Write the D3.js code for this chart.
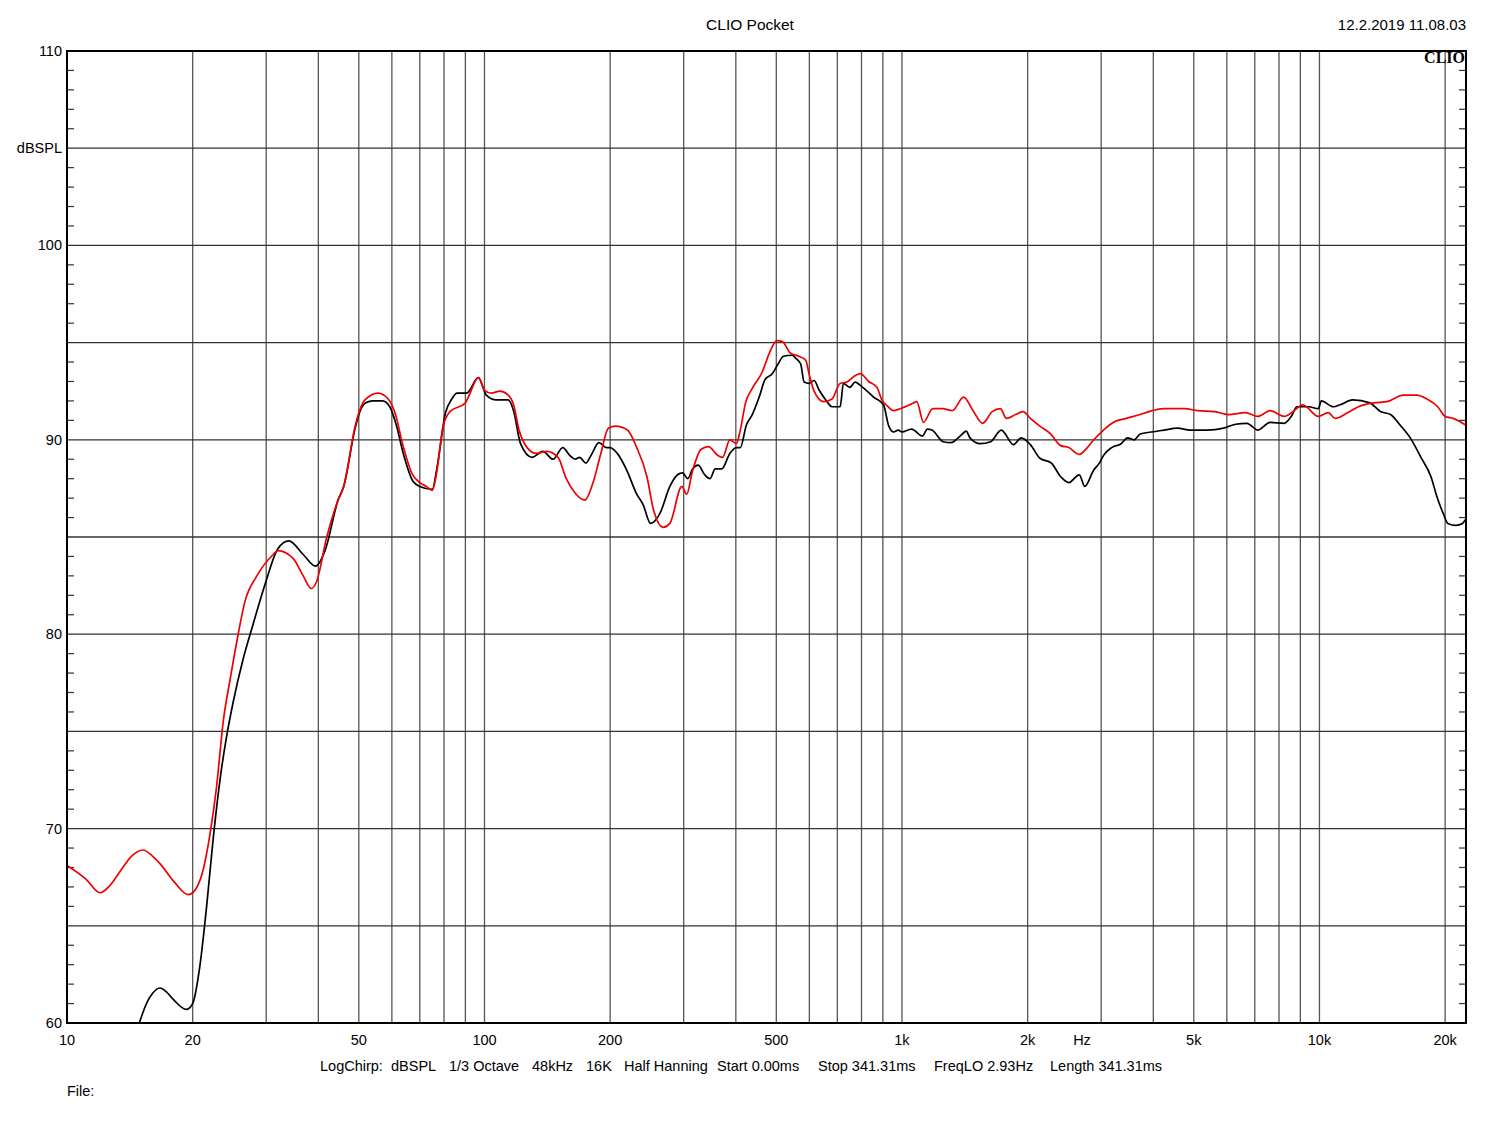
<!DOCTYPE html>
<html>
<head>
<meta charset="utf-8">
<script src="https://cdn.jsdelivr.net/npm/d3@7"></script>
<style>
  html, body { margin: 0; padding: 0; background: #fff; }
  svg text { font-family: "Liberation Sans", Arial, sans-serif; fill: #000; }
</style>
</head>
<body>
<svg id="chart" width="1500" height="1125"></svg>
<script>
// ---- Data (frequency in Hz, level in dBSPL) ----
const redFreq = [10, 11.1, 12, 12.7, 13.5, 14.3, 15.2, 16, 16.7, 18, 19.5, 20, 21.2, 22, 22.8, 23.7, 24.6, 25.5, 26.7, 28.5, 31.2, 32, 34.8, 36.8, 38.5, 39.6, 41.9, 44.6, 46, 49, 50.4, 52, 55.6, 58.8, 61, 63.9, 66.9, 70, 72.6, 75, 76.8, 79.6, 82.7, 90, 91.5, 96.7, 100, 103.8, 108.8, 114, 117.4, 121, 124.7, 133, 141, 150, 157, 165, 174, 182, 190, 198, 206, 220, 231, 245, 254, 268, 278, 297, 305, 315, 330, 344, 362, 372, 387, 401, 410, 422, 438, 463, 481, 502, 517, 541, 566, 588, 599, 616, 649, 680, 711, 738, 766, 795, 832, 871, 895, 927, 952, 990, 1045, 1085, 1126, 1185, 1250, 1320, 1405, 1480, 1560, 1645, 1720, 1780, 1870, 1950, 2030, 2140, 2270, 2400, 2510, 2660, 2780, 2880, 3040, 3210, 3450, 3720, 3900, 4240, 4750, 5110, 5610, 6050, 6650, 7120, 7620, 8230, 8700, 9120, 9940, 10500, 10900, 11700, 12400, 13500, 14500, 15900, 17100, 18100, 19200, 20000, 20900, 22400];
const redDb = [68.1, 67.4, 66.7, 67.1, 67.9, 68.6, 68.9, 68.6, 68.2, 67.3, 66.6, 66.7, 67.9, 69.7, 72.1, 75.6, 77.7, 79.6, 81.7, 83.0, 84.1, 84.3, 83.9, 83.0, 82.35, 82.7, 85.0, 86.9, 87.6, 90.7, 91.6, 92.1, 92.4, 92.1, 91.4, 89.65, 88.3, 87.8, 87.6, 87.4, 88.3, 90.7, 91.45, 91.9, 92.2, 93.2, 92.56, 92.4, 92.5, 92.3, 91.8, 90.5, 89.8, 89.3, 89.4, 89.1, 88.0, 87.25, 86.9, 87.8, 89.3, 90.6, 90.7, 90.5, 89.65, 88.1, 86.4, 85.5, 85.7, 87.6, 87.2, 88.4, 89.5, 89.65, 89.2, 89.1, 90.0, 89.8, 90.5, 91.9, 92.65, 93.5, 94.45, 95.1, 95.05, 94.45, 94.3, 94.1, 93.4, 92.5, 91.96, 92.1, 92.9, 92.97, 93.25, 93.4, 93.0, 92.7, 92.05, 91.7, 91.5, 91.6, 91.8, 91.96, 90.9, 91.6, 91.6, 91.5, 92.2, 91.5, 90.85, 91.45, 91.6, 91.1, 91.3, 91.45, 91.1, 90.7, 90.3, 89.7, 89.6, 89.25, 89.6, 90.0, 90.5, 90.9, 91.1, 91.3, 91.45, 91.6, 91.6, 91.5, 91.45, 91.3, 91.4, 91.2, 91.5, 91.2, 91.5, 91.8, 91.2, 91.4, 91.1, 91.4, 91.7, 91.9, 91.96, 92.3, 92.3, 92.1, 91.7, 91.2, 91.1, 90.76];

const blackFreq = [14.9, 15.5, 16, 16.7, 17.3, 18, 19.3, 20, 20.8, 21.6, 22.4, 23.3, 24.1, 25, 26.4, 27.9, 29.8, 32, 34, 36.8, 39.4, 41.5, 44.6, 46, 49, 50.4, 52, 54, 57, 59.3, 61.6, 63.9, 67.5, 70, 75, 76.8, 80.7, 83.5, 86, 90.6, 96.7, 101, 106.8, 114, 117.4, 122, 130, 138, 146, 154, 160, 165, 169, 175, 180, 188, 196, 200, 208, 219, 231, 240, 250, 263, 278, 290, 298, 307, 315, 325, 337, 347, 357, 370, 387, 401, 410, 424, 438, 455, 470, 489, 505, 520, 546, 556, 572, 583, 599, 616, 633, 657, 680, 711, 724, 750, 772, 795, 825, 855, 903, 930, 955, 980, 1000, 1054, 1120, 1150, 1180, 1255, 1310, 1380, 1425, 1455, 1540, 1630, 1730, 1850, 1930, 2030, 2140, 2280, 2400, 2510, 2660, 2740, 2880, 2970, 3040, 3180, 3350, 3470, 3600, 3720, 3950, 4240, 4570, 4900, 5380, 5890, 6300, 6700, 7120, 7620, 8230, 8560, 8830, 9420, 9940, 10100, 10800, 11200, 12000, 13200, 14000, 14800, 15600, 16500, 17500, 18500, 19100, 19800, 20300, 21200, 22000, 22400];
const blackDb = [60.0, 61.0, 61.5, 61.8, 61.6, 61.2, 60.7, 61.0, 62.9, 66.0, 69.5, 72.65, 74.7, 76.5, 78.7, 80.5, 82.56, 84.4, 84.8, 84.1, 83.5, 84.3, 86.9, 87.6, 90.6, 91.5, 91.9, 92.0, 92.0, 91.7, 90.7, 89.3, 87.85, 87.6, 87.45, 88.45, 91.4, 92.1, 92.4, 92.4, 93.2, 92.3, 92.05, 92.05, 91.5, 89.8, 89.1, 89.4, 89.0, 89.6, 89.2, 89.0, 89.1, 88.8, 89.2, 89.85, 89.6, 89.6, 89.3, 88.45, 87.25, 86.65, 85.7, 86.2, 87.6, 88.2, 88.3, 88.0, 88.5, 88.7, 88.2, 88.0, 88.5, 88.5, 89.3, 89.6, 89.6, 90.76, 91.3, 92.2, 93.1, 93.4, 93.9, 94.3, 94.35, 94.2, 93.9, 92.97, 92.9, 93.05, 92.56, 92.05, 91.7, 91.7, 92.9, 92.7, 92.97, 92.8, 92.5, 92.2, 91.8, 90.7, 90.4, 90.5, 90.4, 90.55, 90.2, 90.55, 90.5, 89.9, 89.85, 90.2, 90.45, 90.1, 89.8, 89.9, 90.5, 89.75, 90.1, 89.75, 89.05, 88.8, 88.1, 87.8, 88.2, 87.6, 88.45, 88.8, 89.2, 89.6, 89.8, 90.1, 90.0, 90.3, 90.4, 90.5, 90.6, 90.5, 90.5, 90.6, 90.8, 90.85, 90.5, 90.9, 90.85, 91.2, 91.7, 91.7, 91.6, 92.0, 91.7, 91.8, 92.05, 91.9, 91.45, 91.3, 90.76, 90.1, 89.1, 88.1, 87.1, 86.2, 85.7, 85.6, 85.7, 85.9];

const xTickValues = [10, 20, 50, 100, 200, 500, 1000, 2000, 5000, 10000, 20000];
const xTickLabels = ["10", "20", "50", "100", "200", "500", "1k", "2k", "5k", "10k", "20k"];
const yLabelValues = [110, 100, 90, 80, 70, 60];
const infoItems = ["LogChirp:", "dBSPL", "1/3 Octave", "48kHz", "16K", "Half Hanning", "Start 0.00ms", "Stop 341.31ms", "FreqLO 2.93Hz", "Length 341.31ms"];
const infoX = [320, 391, 449, 532, 586, 624, 717, 818, 934, 1050];

// ---- Layout ----
const L = 67, R = 1466, T = 51, B = 1023;
const fMin = 10, fMax = 22440;
const svg = d3.select("#chart");
const x = d3.scaleLog().domain([fMin, fMax]).range([L, R]);
const y = d3.scaleLinear().domain([60, 110]).range([B, T]);

// Vertical grid lines (n * 10^k)
const vGrid = [];
for (let k = 1; k <= 4; k++) for (let n = 1; n <= 9; n++) {
  const f = n * Math.pow(10, k);
  if (f > fMin && f < fMax) vGrid.push(f);
}
svg.append("g").selectAll("line").data(vGrid).join("line")
  .attr("x1", d => x(d)).attr("x2", d => x(d))
  .attr("y1", T).attr("y2", B)
  .attr("stroke", "#555").attr("stroke-width", 1.3);

// Horizontal grid lines every 5 dB
const hGrid = d3.range(65, 110, 5);
svg.append("g").selectAll("line").data(hGrid).join("line")
  .attr("x1", L).attr("x2", R)
  .attr("y1", d => y(d)).attr("y2", d => y(d))
  .attr("stroke", "#333").attr("stroke-width", 1.3);

// Minor 1 dB ticks on left and right
const minor = d3.range(61, 110, 1).filter(v => v % 5 !== 0);
const tg = svg.append("g");
tg.selectAll("line.l").data(minor).join("line").attr("class", "l")
  .attr("x1", L).attr("x2", L + 7).attr("y1", d => y(d)).attr("y2", d => y(d))
  .attr("stroke", "#333").attr("stroke-width", 1.2);
tg.selectAll("line.r").data(minor).join("line").attr("class", "r")
  .attr("x1", R - 7).attr("x2", R).attr("y1", d => y(d)).attr("y2", d => y(d))
  .attr("stroke", "#333").attr("stroke-width", 1.2);

// Clip
svg.append("clipPath").attr("id", "clip").append("rect")
  .attr("x", L).attr("y", T).attr("width", R - L).attr("height", B - T);

const line = d3.line().x(d => x(d[0])).y(d => y(d[1])).curve(d3.curveMonotoneX);
const blackData = blackFreq.map((f, i) => [f, blackDb[i]]);
const redData = redFreq.map((f, i) => [f, redDb[i]]);

svg.append("path").datum(blackData).attr("d", line)
  .attr("fill", "none").attr("stroke", "#000").attr("stroke-width", 1.7)
  .attr("clip-path", "url(#clip)");
svg.append("path").datum(redData).attr("d", line)
  .attr("fill", "none").attr("stroke", "#ee0000").attr("stroke-width", 1.7)
  .attr("clip-path", "url(#clip)");

// Frame
svg.append("rect").attr("x", L).attr("y", T).attr("width", R - L).attr("height", B - T)
  .attr("fill", "none").attr("stroke", "#000").attr("stroke-width", 2);

// Y labels
svg.append("g").selectAll("text").data(yLabelValues).join("text")
  .attr("x", 62).attr("y", d => y(d)).attr("dy", "0.35em")
  .attr("text-anchor", "end").attr("font-size", 14.5).text(d => d);
svg.append("text").attr("x", 62).attr("y", y(105)).attr("dy", "0.35em")
  .attr("text-anchor", "end").attr("font-size", 14.5).text("dBSPL");

// X labels
svg.append("g").selectAll("text").data(xTickValues).join("text")
  .attr("x", d => x(d)).attr("y", 1040).attr("dy", "0.35em")
  .attr("text-anchor", "middle").attr("font-size", 14.5)
  .text((d, i) => xTickLabels[i]);
svg.append("text").attr("x", 1082).attr("y", 1040).attr("dy", "0.35em")
  .attr("text-anchor", "middle").attr("font-size", 14.5).text("Hz");

// Info line
svg.append("g").selectAll("text").data(infoItems).join("text")
  .attr("x", (d, i) => infoX[i]).attr("y", 1066).attr("dy", "0.35em")
  .attr("font-size", 14.5).text(d => d);
svg.append("text").attr("x", 67).attr("y", 1091).attr("dy", "0.35em")
  .attr("font-size", 14.5).text("File:");

// Title, date, logo
svg.append("text").attr("x", 750).attr("y", 25).attr("dy", "0.35em")
  .attr("text-anchor", "middle").attr("font-size", 15.5).text("CLIO Pocket");
svg.append("text").attr("x", 1466).attr("y", 25).attr("dy", "0.35em")
  .attr("text-anchor", "end").attr("font-size", 15).text("12.2.2019 11.08.03");
svg.append("text").attr("x", 1465).attr("y", 63)
  .attr("text-anchor", "end").attr("font-size", 16).attr("font-weight", "bold")
  .style("font-family", "'Liberation Serif', 'Times New Roman', serif").text("CLIO");
</script>
</body>
</html>
